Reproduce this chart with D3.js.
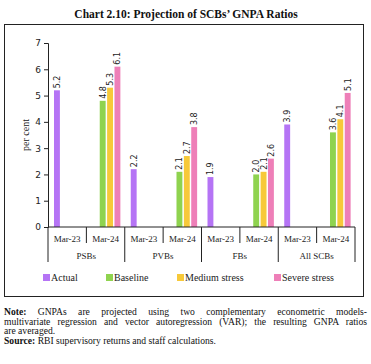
<!DOCTYPE html>
<html><head><meta charset="utf-8">
<script src="https://cdn.jsdelivr.net/npm/d3@7"></script>
<style>
body{margin:0;background:#fff;}
#wrap{position:relative;width:371px;height:364px;overflow:hidden;}
#note{position:absolute;left:4px;top:307px;width:363px;font-family:"Liberation Serif","DejaVu Serif",serif;font-size:9.6px;line-height:9.7px;color:#111;}
#note .j{text-align:justify;text-align-last:justify;white-space:nowrap;}
</style></head>
<body><div id="wrap"><svg id="chart" width="371" height="364"></svg>
<div id="note"><div class="j"><b>Note:</b> GNPAs are projected using two complementary econometric models-</div><div class="j">multivariate regression and vector autoregression (VAR); the resulting GNPA ratios</div><div>are averaged.</div><div><b>Source:</b> RBI supervisory returns and staff calculations.</div></div></div>
<script>
const groups = ["PSBs","PVBs","FBs","All SCBs"];
const periods = ["Mar-23","Mar-24"];
const seriesNames = ["Actual","Baseline","Medium stress","Severe stress"];
const seriesColors = ["#b574f5","#8fd34f","#f7c93a","#ee7fb8"];
const actualMar23 = [5.2, 2.2, 1.9, 3.9];
const baselineMar24 = [4.8, 2.1, 2.0, 3.6];
const mediumMar24 = [5.3, 2.7, 2.1, 4.1];
const severeMar24 = [6.1, 3.8, 2.6, 5.1];
const yTicks = [0,1,2,3,4,5,6,7];

const svg = d3.select("#chart");
const serif = "'Liberation Serif','DejaVu Serif',serif";
const sans = "'DejaVu Sans',Verdana,sans-serif";

svg.append("text").attr("x",186).attr("y",18).attr("text-anchor","middle")
  .attr("font-family",serif).attr("font-weight","bold").attr("font-size",11.5)
  .attr("fill","#111").text("Chart 2.10: Projection of SCBs\u2019 GNPA Ratios");
svg.append("rect").attr("x",4.5).attr("y",24.5).attr("width",359).attr("height",272)
  .attr("fill","none").attr("stroke","#222").attr("stroke-width",1);

const pLeft=48, pRight=355, pTop=43, pBottom=227;
const subs = [];
groups.forEach(g=>periods.forEach(p=>subs.push(g+"|"+p)));
const x = d3.scaleBand().domain(subs).range([pLeft,pRight]).padding(0);
const y = d3.scaleLinear().domain([0,7]).range([pBottom,pTop]);
const inner = d3.scaleBand().domain(seriesNames).range([6,34]).paddingInner(0.2).paddingOuter(0);

const data = [];
groups.forEach((g,i)=>{
  data.push({key:g+"|Mar-23",s:"Actual",v:actualMar23[i]});
  data.push({key:g+"|Mar-24",s:"Baseline",v:baselineMar24[i]});
  data.push({key:g+"|Mar-24",s:"Medium stress",v:mediumMar24[i]});
  data.push({key:g+"|Mar-24",s:"Severe stress",v:severeMar24[i]});
});
const color = d3.scaleOrdinal().domain(seriesNames).range(seriesColors);

svg.selectAll("rect.bar").data(data).join("rect").attr("class","bar")
  .attr("x",d=>x(d.key)+inner(d.s)).attr("width",inner.bandwidth())
  .attr("y",d=>y(d.v)).attr("height",d=>y(0)-y(d.v)).attr("fill",d=>color(d.s));

svg.selectAll("text.lbl").data(data).join("text").attr("class","lbl")
  .attr("transform",d=>`translate(${x(d.key)+inner(d.s)+inner.bandwidth()/2+3},${y(d.v)-2}) rotate(-90)`)
  .attr("font-family",sans).attr("font-size",8).attr("fill","#222")
  .text(d=>d3.format(".1f")(d.v));

const yAxis = svg.append("g").attr("transform",`translate(${pLeft},0)`)
  .call(d3.axisLeft(y).tickValues(yTicks).tickSize(4).tickFormat(d3.format("d")));
yAxis.select(".domain").attr("stroke","#222");
yAxis.selectAll(".tick line").attr("stroke","#222");
yAxis.selectAll("text").attr("font-family",sans).attr("font-size",9).attr("fill","#222").attr("x",-7);

svg.append("text").attr("transform",`translate(29,${(pTop+pBottom)/2}) rotate(-90)`)
  .attr("text-anchor","middle").attr("font-family",serif).attr("font-size",10).attr("fill","#222").text("per cent");

svg.append("line").attr("x1",pLeft).attr("x2",pRight).attr("y1",pBottom).attr("y2",pBottom).attr("stroke","#222");
const bounds = d3.range(subs.length+1).map(i=> i<subs.length ? x(subs[i]) : pRight);
svg.selectAll("line.sep").data(bounds).join("line").attr("class","sep")
  .attr("x1",d=>d).attr("x2",d=>d).attr("y1",pBottom)
  .attr("y2",(d,i)=> i%2===0 ? 262 : 243).attr("stroke","#222");
svg.selectAll("text.sub").data(subs).join("text").attr("class","sub")
  .attr("x",d=>x(d)+x.bandwidth()/2).attr("y",242).attr("text-anchor","middle")
  .attr("font-family",serif).attr("font-size",9).attr("fill","#222").text(d=>d.split("|")[1]);
svg.selectAll("text.grp").data(groups).join("text").attr("class","grp")
  .attr("x",g=>x(g+"|Mar-23")+x.bandwidth()).attr("y",259).attr("text-anchor","middle")
  .attr("font-family",serif).attr("font-size",9).attr("fill","#222").text(g=>g);

const legX = [43,106,177,274];
const leg = svg.selectAll("g.leg").data(seriesNames).join("g").attr("class","leg")
  .attr("transform",(d,i)=>`translate(${legX[i]},274)`);
leg.append("rect").attr("width",7).attr("height",7).attr("fill",d=>color(d));
leg.append("text").attr("x",8).attr("y",7).attr("font-family",serif).attr("font-size",10).attr("fill","#222").text(d=>d);
</script></body></html>
